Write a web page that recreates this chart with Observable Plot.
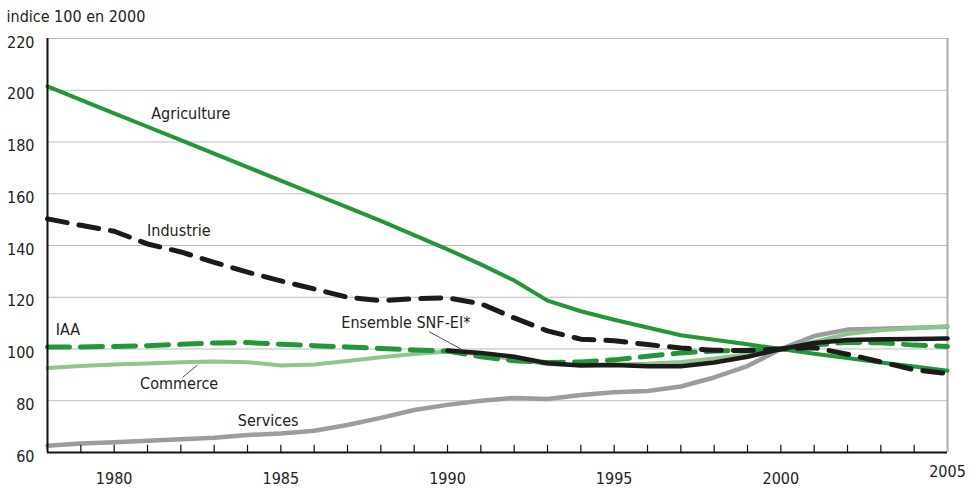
<!DOCTYPE html>
<html>
<head>
<meta charset="utf-8">
<script src="https://cdn.jsdelivr.net/npm/d3@7"></script>
<script src="https://cdn.jsdelivr.net/npm/@observablehq/plot@0.6"></script>
<style>
  html, body { margin: 0; padding: 0; background: #fff; }
  #chart { width: 976px; height: 488px; }
</style>
</head>
<body>
<div id="chart"></div>
<script>
const years = [1978,1979,1980,1981,1982,1983,1984,1985,1986,1987,1988,1989,1990,1991,1992,1993,1994,1995,1996,1997,1998,1999,2000,2001,2002,2003,2004,2005];
const agriculture = [201.5,196.3,191.1,185.9,180.7,175.5,170.3,165.1,159.9,154.7,149.5,144,138.5,132.7,126.5,118.7,114.6,111.3,108.3,105.3,103.6,101.8,100,98.2,96.5,94.8,93.2,91.6];
const industrie = [150.3,147.8,145.5,140.6,137.5,133.5,129.7,126.3,123.2,120,118.7,119.4,119.8,117.5,112,107,103.8,103.2,101.7,100.4,99.5,99.4,100,100.5,98,95,92,90.5];
const iaa = [100.8,100.8,101,101.3,101.8,102.3,102.5,101.8,101.3,100.8,100.2,99.6,99.2,97,95.5,94.8,95,95.8,97.2,98.5,99.2,99.5,100,101.5,102.6,102.4,101.5,101];
const commerce = [92.7,93.4,94,94.4,94.9,95.2,94.9,93.6,94,95.4,96.8,98.1,99,98,96,94.2,93.8,94,94.3,95,96.3,98,100,102.8,105.8,107.2,108,108.8];
const services = [62.6,63.5,64,64.5,65.1,65.7,66.8,67.3,68.4,70.6,73.4,76.4,78.4,80,81.1,80.7,82.2,83.3,83.8,85.5,89,93.4,100,105,107.5,107.8,108.2,108.6];
const ensembleYears = [1990,1991,1992,1993,1994,1995,1996,1997,1998,1999,2000,2001,2002,2003,2004,2005];
const ensemble = [99.4,98.5,97,94.5,93.6,93.8,93.3,93.3,94.8,97,100,102.3,103.5,103.8,103.9,104.1];

const yTicks = [60,80,100,120,140,160,180,200,220];
const gridValues = [80,100,120,140,160,180,200,220];
const xLabelYears = [1980,1985,1990,1995,2000];
const xTickYears = [1979,1980,1981,1982,1983,1984,1985,1986,1987,1988,1989,1990,1991,1992,1993,1994,1995,1996,1997,1998,1999,2000,2001,2002,2003,2004];
const lastYearLabel = [2005];
const yUnitLabel = "indice 100 en 2000";

const seriesLabels = [
  {text: "Agriculture", year: 1982.3, value: 190.7},
  {text: "Industrie", year: 1981.94, value: 145.5},
  {text: "IAA", year: 1978.61, value: 107.5},
  {text: "Ensemble SNF-EI*", year: 1988.75, value: 110},
  {text: "Commerce", year: 1981.95, value: 86.7},
  {text: "Services", year: 1984.62, value: 72.3}
];
const leaders = [
  {x1: 1989.45, y1: 106.7, x2: 1990.4, y2: 100},
  {x1: 1982.05, y1: 89.0, x2: 1982.5, y2: 93.8}
];

const toRows = (xs, vs) => xs.map((x, i) => ({year: x, value: vs[i]}));
const rowsAgri = toRows(years, agriculture);
const rowsInd = toRows(years, industrie);
const rowsIaa = toRows(years, iaa);
const rowsCom = toRows(years, commerce);
const rowsSer = toRows(years, services);
const rowsEns = toRows(ensembleYears, ensemble);

const green = "#23963a";
const lightGreen = "#8ec58e";
const grey = "#9b9ca1";
const black = "#1c1a1b";
const font = "'DejaVu Sans Condensed', 'Liberation Sans Narrow', sans-serif";
const fs = 16;

const chart = Plot.plot({
  width: 976,
  height: 488,
  marginLeft: 47,
  marginRight: 29,
  marginTop: 38,
  marginBottom: 36,
  style: {fontFamily: font, fontSize: fs + "px", color: "#222", background: "#fff"},
  x: {domain: [1978, 2005]},
  y: {domain: [60, 220]},
  marks: [
    Plot.ruleY(gridValues, {stroke: "#bcbcbc", strokeWidth: 1.2}),
    Plot.ruleX(lastYearLabel, {stroke: "#aeaeae", strokeWidth: 2}),
    Plot.line(rowsSer, {x: "year", y: "value", stroke: grey, strokeWidth: 4.5}),
    Plot.line(rowsCom, {x: "year", y: "value", stroke: lightGreen, strokeWidth: 4}),
    Plot.line(rowsAgri, {x: "year", y: "value", stroke: green, strokeWidth: 4}),
    Plot.line(rowsIaa, {x: "year", y: "value", stroke: green, strokeWidth: 5, strokeDasharray: "22,11"}),
    Plot.line(rowsInd, {x: "year", y: "value", stroke: black, strokeWidth: 5, strokeDasharray: "20,12"}),
    Plot.line(rowsEns, {x: "year", y: "value", stroke: black, strokeWidth: 4.5}),
    Plot.link(leaders, {x1: "x1", y1: "y1", x2: "x2", y2: "y2", stroke: "#222", strokeWidth: 0.8}),
    Plot.text(seriesLabels, {x: "year", y: "value", text: "text", fontSize: fs, fill: "#222"}),
    Plot.ruleY([60], {stroke: "#111", strokeWidth: 2}),
    Plot.ruleX([1978], {stroke: "#111", strokeWidth: 2}),
    Plot.ruleX(xTickYears, {x: d => d, y1: 60, y2: 62.8, stroke: "#111", strokeWidth: 1.2}),
    Plot.axisX(xLabelYears, {tickSize: 0, tickPadding: 20, tickFormat: d => String(d), fontSize: fs, label: null}),
    Plot.text(lastYearLabel, {x: d => d, frameAnchor: "bottom", lineAnchor: "top", dy: 13, text: d => String(d), fontSize: fs, fill: "#222"}),
    Plot.axisY(yTicks, {tickSize: 0, tickPadding: 13, dy: 4, fontSize: fs, label: null}),
    Plot.text([yUnitLabel], {frameAnchor: "top-left", lineAnchor: "top", dx: -41, dy: -28, textAnchor: "start", text: d => d, fontSize: fs, fill: "#222"})
  ]
});
document.getElementById("chart").appendChild(chart);
</script>
</body>
</html>
